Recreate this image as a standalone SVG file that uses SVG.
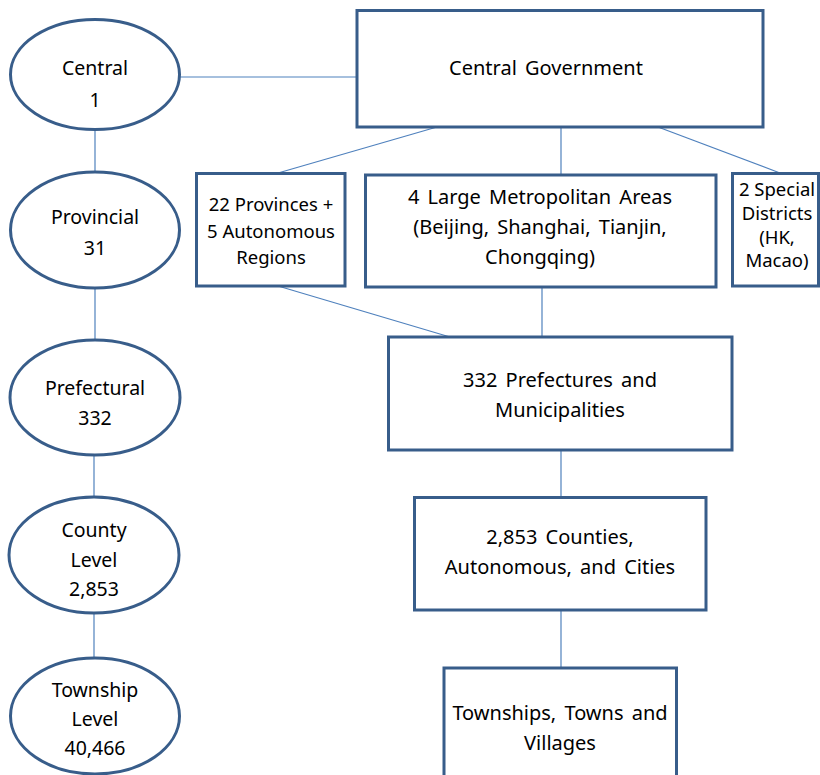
<svg xmlns="http://www.w3.org/2000/svg" width="820" height="775" viewBox="0 0 820 775">
<style>
.n{fill:#fff;stroke:#385d8a;stroke-width:3}
.c{stroke:#4f81bd;stroke-width:1.2;fill:none}
text{font-family:"Noto Sans","Open Sans","DejaVu Sans",sans-serif;font-size:19.5px;fill:#000;text-anchor:middle}
.b{font-size:20px;word-spacing:3px}
.s{font-size:18.5px}
</style>
<rect width="820" height="775" fill="#fff"/>
<g id="connectors">
<line class="c" x1="95" y1="130" x2="95" y2="172"/>
<line class="c" x1="95" y1="288" x2="95" y2="340"/>
<line class="c" x1="94" y1="455" x2="94" y2="497"/>
<line class="c" x1="94" y1="613" x2="94" y2="658"/>
<line class="c" x1="175" y1="77" x2="357" y2="77"/>
<line class="c" x1="437" y1="127" x2="278" y2="173"/>
<line class="c" x1="561" y1="127" x2="561" y2="175"/>
<line class="c" x1="658" y1="127" x2="780" y2="173"/>
<line class="c" x1="278" y1="286" x2="450" y2="337"/>
<line class="c" x1="542" y1="287" x2="542" y2="337"/>
<line class="c" x1="561" y1="450" x2="561" y2="497"/>
<line class="c" x1="561" y1="610" x2="561" y2="668"/>
</g>
<g id="central">
<ellipse class="n" cx="95" cy="74.5" rx="84.5" ry="55"/>
<text x="95" y="75">Central</text><text x="95" y="107">1</text>
</g>
<g id="provincial">
<ellipse class="n" cx="95" cy="230" rx="84.5" ry="58"/>
<text x="95" y="224">Provincial</text><text x="95" y="255">31</text>
</g>
<g id="prefectural">
<ellipse class="n" cx="95" cy="397.5" rx="85" ry="57.5"/>
<text x="95" y="395">Prefectural</text><text x="95" y="425">332</text>
</g>
<g id="county">
<ellipse class="n" cx="94" cy="555" rx="85" ry="58"/>
<text x="94" y="537">County</text><text x="94" y="567">Level</text><text x="94" y="596">2,853</text>
</g>
<g id="township">
<ellipse class="n" cx="95" cy="716" rx="84.5" ry="58"/>
<text x="95" y="697">Township</text><text x="95" y="726">Level</text><text x="95" y="755">40,466</text>
</g>
<g id="central-government">
<rect class="n" x="357" y="10.5" width="406" height="116.5"/>
<text class="b" x="546" y="75">Central Government</text>
</g>
<g id="provinces">
<rect class="n" x="196.5" y="173.5" width="148.5" height="112.5"/>
<text class="s" x="271" y="211">22 Provinces +</text><text class="s" x="271" y="238">5 Autonomous</text><text class="s" x="271" y="264">Regions</text>
</g>
<g id="metro">
<rect class="n" x="365.5" y="175" width="350.5" height="112"/>
<text class="b" x="540" y="204">4 Large Metropolitan Areas</text><text class="b" x="540" y="234">(Beijing, Shanghai, Tianjin,</text><text class="b" x="540" y="264">Chongqing)</text>
</g>
<g id="special">
<rect class="n" x="732.5" y="173.5" width="86" height="112.5"/>
<text class="s" x="777" y="196">2 Special</text><text class="s" x="777" y="220">Districts</text><text class="s" x="777" y="244">(HK,</text><text class="s" x="777" y="267">Macao)</text>
</g>
<g id="prefectures">
<rect class="n" x="388.5" y="337" width="343.5" height="113"/>
<text class="b" x="560" y="387">332 Prefectures and</text><text class="b" x="560" y="417">Municipalities</text>
</g>
<g id="counties">
<rect class="n" x="414.5" y="497.5" width="291.5" height="112.5"/>
<text class="b" x="560" y="544">2,853 Counties,</text><text class="b" x="560" y="574">Autonomous, and Cities</text>
</g>
<g id="townships">
<rect class="n" x="444" y="668" width="232.5" height="120"/>
<text class="b" x="560" y="720">Townships, Towns and</text><text class="b" x="560" y="750">Villages</text>
</g>
</svg>
